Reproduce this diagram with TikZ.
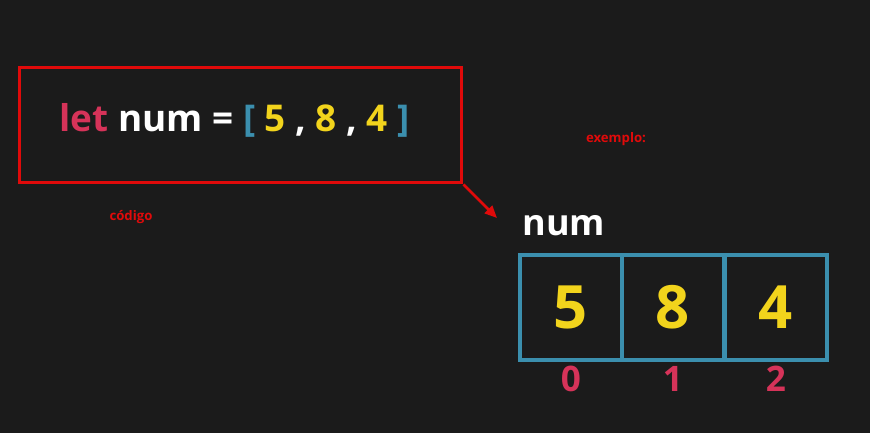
\documentclass[tikz,border=0pt]{standalone}
\usepackage{fontspec}
\setmainfont{Open Sans}
\usepackage{tikz}
\usetikzlibrary{arrows.meta,positioning}
\definecolor{bgdark}{HTML}{1B1B1B}
\definecolor{markred}{HTML}{E00A0A}
\definecolor{kwred}{HTML}{D63359}
\definecolor{arrteal}{HTML}{3B8FAE}
\definecolor{numyellow}{HTML}{F2D41C}

\begin{document}
\begin{tikzpicture}[x=0.02cm,y=-0.02cm,font=\bfseries,
  codebox/.style={draw=markred,line width=1.7pt,minimum width=8.86cm,minimum height=2.32cm,inner sep=0pt},
  cell/.style={draw=arrteal,line width=2.3pt,minimum width=2.04cm,minimum height=2.1cm,inner sep=0pt,
    text=numyellow,font=\bfseries\fontsize{34}{38}\selectfont},
  idx/.style={text=kwred,font=\bfseries\fontsize{20}{24}\selectfont},
  note/.style={text=markred,font=\bfseries\fontsize{7.5}{9}\selectfont}]
\fill[bgdark] (0,0) rectangle (870,433);
\useasboundingbox (0,0) rectangle (870,433);
% code line
\node[codebox] (code) at (240.5,125) {};
\node[text=white,font=\bfseries\fontsize{21}{25}\selectfont] (codetxt) at (234.5,120)
  {\textcolor{kwred}{let} num = \textcolor{arrteal}{[} \textcolor{numyellow}{5} , \textcolor{numyellow}{8} , \textcolor{numyellow}{4} \textcolor{arrteal}{]}};
\node[note] (codelbl) at (131,217) {código};
\node[note] (exlbl) at (616,139) {exemplo:};
% array
\coordinate (tip) at (497,218);
\draw[markred,line width=1.5pt,-{Triangle[length=7pt,width=6pt]}] (code.south east) -- (tip);
\node[text=white,font=\bfseries\fontsize{20.5}{24}\selectfont] (numlbl) at (564,226) {num};
\foreach \i/\v/\x in {0/5/571,1/8/673,2/4/776} {
  \node[cell] (c\i) at (\x,307.5) {\v};
  \node[idx] (i\i) at (\x,379) {\i};
}
\end{tikzpicture}
\end{document}
